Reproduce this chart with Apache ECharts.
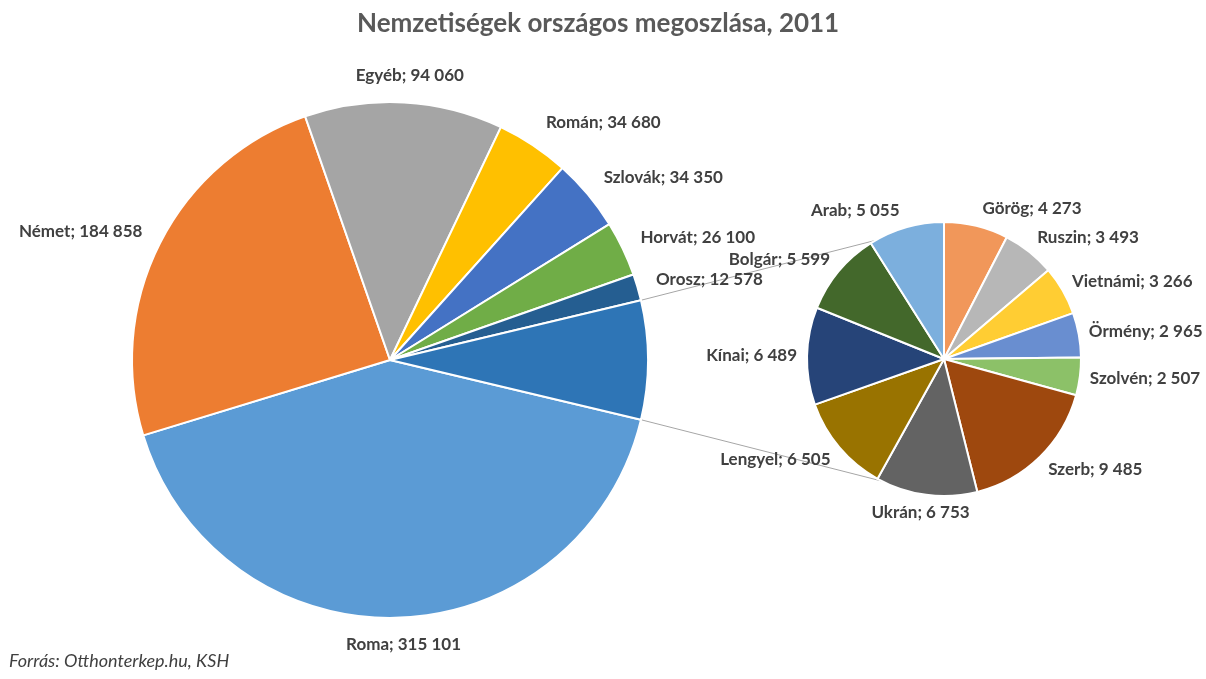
<!DOCTYPE html>
<html>
<head>
<meta charset="utf-8">
<script src="https://cdn.jsdelivr.net/npm/echarts@6/dist/echarts.min.js"></script>
<style>
	html, body { margin: 0; padding: 0; background: #fff; }
	#chart { width: 1206px; height: 679px; }
</style>
</head>
<body>
<div id="chart"></div>
<script>
// Main pie (clockwise from the "other" slice's lower edge)
const mainNames = ["Roma", "Német", "Egyéb", "Román", "Szlovák", "Horvát", "Orosz"];
const mainValues = [315101, 184858, 94060, 34680, 34350, 26100, 12578];
const mainColors = ["#5B9BD5", "#ED7D31", "#A5A5A5", "#FFC000", "#4472C4", "#70AD47", "#255E91"];
const otherColor = "#2E75B6";

// Secondary pie (clockwise from 12 o'clock)
const subNames = ["Görög", "Ruszin", "Vietnámi", "Örmény", "Szolvén", "Szerb", "Ukrán", "Lengyel", "Kínai", "Bolgár", "Arab"];
const subValues = [4273, 3493, 3266, 2965, 2507, 9485, 6753, 6505, 6489, 5599, 5055];
const subColors = ["#F1975A", "#B7B7B7", "#FFCD33", "#698ED0", "#8CC168", "#9E480E", "#636363", "#997300", "#264478", "#43682B", "#7CAFDD"];

const titleText = "Nemzetiségek országos megoszlása, 2011";
const sourceText = "Forrás: Otthonterkep.hu, KSH";

// layout
const mainCenter = [390, 360];
const mainRadius = 258;
const subCenter = [944, 359];
const subRadius = 137;

const otherValue = subValues.reduce((a, b) => a + b, 0);
const mainTotal = mainValues.reduce((a, b) => a + b, 0) + otherValue;
const halfOther = (otherValue / mainTotal) * 360 / 2;

function fmt(v) {
	return String(v).replace(/\B(?=(\d{3})+(?!\d))/g, " ");
}

// mid angle (degrees, counter-clockwise from 3 o'clock) of every slice
function midAngles(values, total, start) {
	let cum = 0;
	return values.map((v) => {
		const mid = start - ((cum + v / 2) / total) * 360;
		cum += v;
		return mid;
	});
}
const mainMids = midAngles(mainValues.concat([otherValue]), mainTotal, -halfOther);
const subMids = midAngles(subValues, otherValue, 90);

// push labels away like Excel's "outside end": centre the ones above/below
function excelLabel(mids) {
	return function (params) {
		const a = (mids[params.dataIndex] * Math.PI) / 180;
		const out = { dy: -Math.sin(a) * 13 };
		if (Math.abs(Math.cos(a)) < 0.2) {
			out.align = "center";
		}
		return out;
	};
}

const labelStyle = {
	color: "#404040",
	fontFamily: "Lato",
	fontWeight: "bold",
	fontSize: 17,
	formatter: (p) => p.name + "; " + fmt(p.value),
};

const mainData = mainNames.map((name, i) => ({
	name: name,
	value: mainValues[i],
	itemStyle: { color: mainColors[i] },
}));
mainData.push({
	name: "Egyéb kisebb",
	value: otherValue,
	itemStyle: { color: otherColor },
	label: { show: false },
});

const subData = subNames.map((name, i) => ({
	name: name,
	value: subValues[i],
	itemStyle: { color: subColors[i] },
}));

// connector lines from the "other" slice edges to the secondary pie
function pt(c, r, deg) {
	const a = (deg * Math.PI) / 180;
	return [c[0] + r * Math.cos(a), c[1] - r * Math.sin(a)];
}
const topA = pt(mainCenter, mainRadius, halfOther);
const botA = pt(mainCenter, mainRadius, -halfOther);
const topB = pt(subCenter, subRadius, 120);
const botB = pt(subCenter, subRadius, -117);

const chart = echarts.init(document.getElementById("chart"));
chart.setOption({
	animation: false,
	title: {
		text: titleText,
		left: 352,
		top: 6,
		textStyle: {
			fontFamily: "Lato",
			fontWeight: "bold",
			fontSize: 26,
			color: "#595959",
		},
	},
	graphic: [
		{
			type: "line",
			shape: { x1: topA[0], y1: topA[1], x2: topB[0], y2: topB[1] },
			style: { stroke: "#A6A6A6", lineWidth: 1 },
			z: 0,
		},
		{
			type: "line",
			shape: { x1: botA[0], y1: botA[1], x2: botB[0], y2: botB[1] },
			style: { stroke: "#A6A6A6", lineWidth: 1 },
			z: 0,
		},
		{
			type: "text",
			left: 9,
			top: 652,
			style: {
				text: sourceText,
				fontFamily: "Lato",
				fontStyle: "italic",
				fontSize: 18,
				fill: "#404040",
			},
		},
	],
	series: [
		{
			type: "pie",
			center: mainCenter,
			radius: [0, mainRadius],
			startAngle: -halfOther,
			clockwise: true,
			avoidLabelOverlap: false,
			itemStyle: { borderColor: "#fff", borderWidth: 2 },
			label: Object.assign({ position: "outside" }, labelStyle),
			labelLine: { show: false, length: 14, length2: 0 },
			labelLayout: excelLabel(mainMids),
			data: mainData,
			z: 2,
		},
		{
			type: "pie",
			center: subCenter,
			radius: [0, subRadius],
			startAngle: 90,
			clockwise: true,
			avoidLabelOverlap: false,
			itemStyle: { borderColor: "#fff", borderWidth: 2 },
			label: Object.assign({ position: "outside" }, labelStyle),
			labelLine: { show: false, length: 5, length2: 0 },
			labelLayout: excelLabel(subMids),
			data: subData,
			z: 2,
		},
	],
});
</script>
</body>
</html>
